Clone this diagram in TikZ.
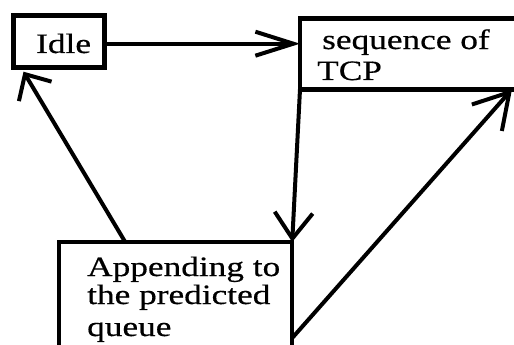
\documentclass[tikz,border=0pt]{standalone}
\usepackage{fontspec}
\newfontfamily\lblfont[FakeStretch=1.26,FakeBold=0.5]{Liberation Serif}
\usetikzlibrary{arrows.meta,calc}
\begin{document}
\begin{tikzpicture}[x=1pt,y=-1pt,
  box/.style={draw,line width=4.5pt,inner sep=0pt,outer sep=0pt,anchor=north west},
  lbl/.style={font=\lblfont\fontsize{28}{30}\selectfont,inner sep=0pt,anchor=base west},
  flow/.style={line width=4pt}]
\useasboundingbox (0,0) rectangle (514,345);
\clip (0,0) rectangle (514,345);

% states
\node[box,minimum width=91pt,minimum height=52pt] (idle) at (13.5,15.7) {};
\node[box,minimum width=230pt,minimum height=71pt] (seq) at (300,18.3) {};
\node[box,minimum width=233pt,minimum height=130pt] (app) at (59.2,242) {};

% labels
\node[lbl] (idletxt) at (36,53) {Idle};
\node[lbl] (seqtxt1) at (322,49) {sequence of};
\node[lbl] (seqtxt2) at (317,80) {TCP};
\node[lbl] (apptxt1) at (87,276) {Appending to};
\node[lbl] (apptxt2) at (87,304) {the predicted};
\node[lbl] (apptxt3) at (87,336) {queue};

% transitions
\draw[flow,-{Straight Barb[length=38pt,width=24pt]}]
  ([yshift=-2pt]idle.east) -- ([yshift=-2pt]idle.east -| seq.west);
\draw[flow,-{Straight Barb[length=26pt,width=38pt]}]
  (seq.south west) -- (app.north east);
\draw[flow,-{Straight Barb[length=20pt,width=38pt]}]
  ($(app.north west)+(66,0)$) -- ($(idle.south west)+(10,4)$);
\draw[flow,-{Straight Barb[length=34pt,width=40pt]}]
  ($(app.north east)+(0,96)$) -- ($(seq.south west)+(212,0)$);
\end{tikzpicture}
\end{document}
